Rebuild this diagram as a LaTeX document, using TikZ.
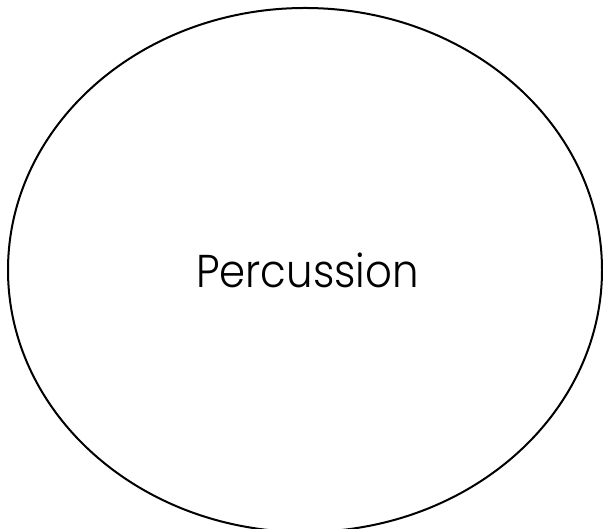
\documentclass[tikz,border=0pt]{standalone}
\usepackage{fontspec}
\usetikzlibrary{shapes.geometric}
\setmainfont{Poppins}[UprightFont=* Light]
\begin{document}
\begin{tikzpicture}[x=1pt,y=1pt,
  blob/.style={draw=black, line width=2pt, ellipse, minimum width=594pt, minimum height=524pt, inner sep=0pt},
  lbl/.style={font=\fontsize{46}{54}\selectfont, anchor=base, inner sep=0pt, xscale=0.91}]
\useasboundingbox (0,0) rectangle (603,529);
\node[blob] (perc) at (305,259) {};
\node[lbl] (t) at (307.5,241) {Percussion};
\end{tikzpicture}
\end{document}
